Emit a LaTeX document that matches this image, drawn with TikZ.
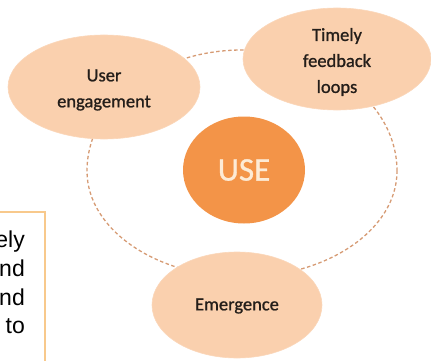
\documentclass[tikz,border=0pt]{standalone}
\usepackage{fontspec}
\setmainfont{Carlito}
\newfontfamily\petalfont[FakeBold=1.0]{Carlito}
\newfontfamily\arialfont{Liberation Sans}
\usetikzlibrary{shapes.geometric}
\definecolor{peach}{HTML}{FAD0AE}
\definecolor{useorange}{HTML}{F39448}
\definecolor{usetext}{HTML}{FDEBD6}
\definecolor{ringcol}{HTML}{D69B74}
\definecolor{boxborder}{HTML}{F8C98C}
\definecolor{darktext}{HTML}{241E1A}
\tikzset{
  petal/.style={ellipse, fill=peach, draw=peach!85!white, line width=0.6pt, inner sep=0pt},
  petaltext/.style={inner sep=0pt, text=darktext, align=center,
    font=\petalfont\fontsize{18.5}{26}\selectfont},
  core/.style={ellipse, fill=useorange, inner sep=0pt, text=usetext,
    font=\petalfont\fontsize{33}{36}\selectfont},
  ring/.style={draw=ringcol, line width=1.3pt, dash pattern=on 3.5pt off 2.5pt},
  sidebox/.style={draw=boxborder, line width=1.3pt, fill=white},
  sidetext/.style={anchor=base east, inner sep=0pt, font=\arialfont\fontsize{23}{28}\selectfont, text=black}
}
\begin{document}
\begin{tikzpicture}[x=1pt,y=-1pt]
\useasboundingbox (0,0) rectangle (431,361);
\coordinate (ringc) at (242,171);
\coordinate (ringstart) at (397,171);
\draw[ring] (ringstart) arc[start angle=0, end angle=180, x radius=155pt, y radius=121pt]
  arc[start angle=180, end angle=360, x radius=155pt, y radius=106pt] -- cycle;
\node[petal, minimum width=192pt, minimum height=104pt] (user) at (104,87) {};
\node[petaltext] (usertext) at ([yshift=-3pt]user.center) {User\\engagement};
\node[petal, minimum width=188pt, minimum height=102pt] (timely) at (337,59) {};
\node[petaltext] (timelytext) at ([yshift=-3pt]timely.center) {Timely\\feedback\\loops};
\node[core, minimum width=122pt, minimum height=107pt] (use) at (244,170) {USE};
\node[petal, minimum width=170pt, minimum height=106pt] (emerg) at (237,305) {};
\node[petaltext] (emergtext) at ([yshift=-1pt]emerg.center) {Emergence};
\coordinate (boxa) at (-10,212);
\coordinate (boxb) at (45,375);
\draw[sidebox] (boxa) rectangle (boxb);
\node[sidetext] (t1) at (25,247) {ely};
\node[sidetext] (t2) at (25,276) {nd};
\node[sidetext] (t3) at (25,305) {nd};
\node[sidetext] (t4) at (25,333) {to};
\end{tikzpicture}
\end{document}
